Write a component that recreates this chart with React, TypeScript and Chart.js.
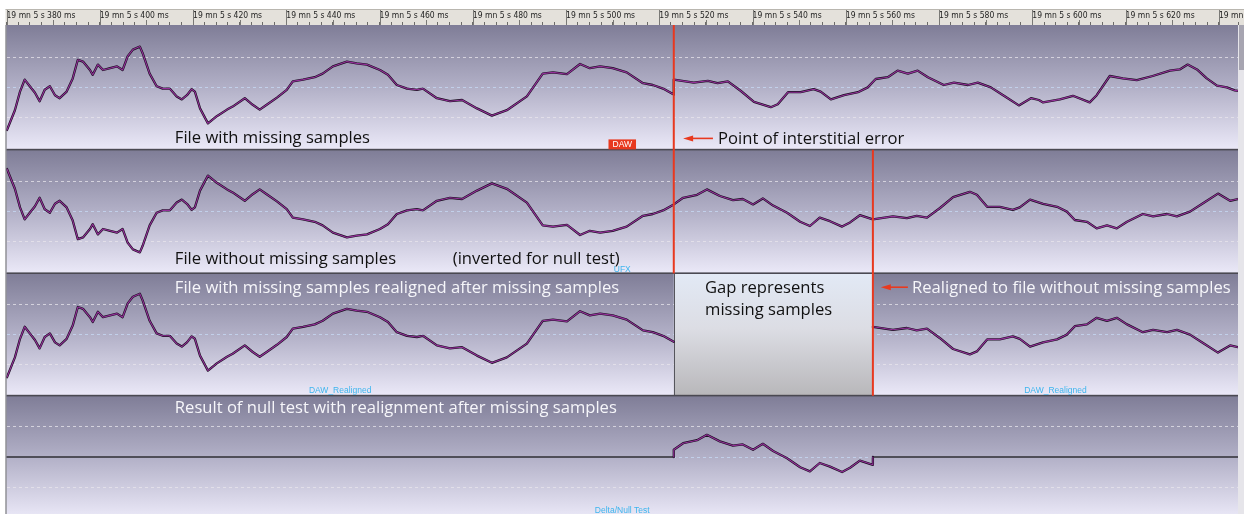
import { useEffect, useRef } from "react";
import { Chart, registerables } from "chart.js";

Chart.register(...registerables);

// Readings of the file without missing samples: time (ms after 19 mn 5 s) and normalised amplitude
const sampleMs = [
  380.1, 381.8, 382.9, 383.9, 385.0, 386.1, 387.1, 388.2, 389.3, 390.4,
  391.4, 392.9, 394.2, 395.3, 396.4, 397.9, 398.5, 399.6, 400.7, 402.2,
  403.7, 404.9, 406.0, 407.1, 408.6, 409.2, 410.7, 412.2, 413.5, 415.0,
  416.5, 417.6, 418.7, 419.7, 420.4, 421.5, 423.2, 425.1, 427.3, 428.5,
  431.1, 432.8, 434.3, 435.8, 438.0, 440.1, 441.4, 443.6, 446.1, 447.8,
  450.0, 453.0, 455.1, 457.3, 460.1, 461.8, 463.7, 465.9, 468.0, 469.3,
  472.3, 475.1, 477.7, 480.9, 484.1, 487.3, 491.6, 495.0, 497.2, 500.2,
  503.0, 505.1, 507.3, 510.0, 513.0, 516.5, 518.6, 520.8, 523.1, 525.1,
  528.1, 530.2, 533.0, 535.8, 537.9, 540.1, 542.2, 544.4, 547.4, 550.2,
  552.3, 554.4, 556.6, 559.2, 560.9, 563.0, 565.8, 570.1, 573.1, 575.2,
  577.4, 580.2, 583.0, 586.6, 588.1, 590.3, 593.0, 595.8, 597.3, 599.5,
  602.3, 605.3, 607.4, 609.1, 611.7, 613.8, 616.0, 618.1, 620.3, 623.7,
  625.9, 628.9, 631.0, 633.8, 636.6, 639.8, 642.4, 644.1, 645.0, 648.6,
  651.4, 655.0, 656.5, 659.3, 662.1, 665.1, 668.5, 672.2, 674.3, 676.0,
  678.0, 680.1, 682.3, 684.4, 686.1, 686.9,
];

const amplitude = [
  -0.71, -0.38, -0.07, 0.13, 0.02, -0.09, -0.23, -0.04, 0.02, -0.13,
  -0.18, -0.07, 0.15, 0.46, 0.43, 0.29, 0.21, 0.38, 0.29, 0.32,
  0.35, 0.29, 0.52, 0.63, 0.68, 0.57, 0.23, 0.02, -0.02, -0.02,
  -0.15, -0.2, -0.13, -0.03, -0.07, -0.35, -0.6, -0.48, -0.37, -0.32,
  -0.18, -0.29, -0.37, -0.29, -0.17, -0.04, 0.1, 0.13, 0.17, 0.23,
  0.35, 0.43, 0.4, 0.38, 0.29, 0.21, 0.04, -0.02, -0.04, -0.02,
  -0.18, -0.23, -0.21, -0.35, -0.47, -0.38, -0.15, 0.23, 0.25, 0.22,
  0.39, 0.32, 0.35, 0.32, 0.25, 0.07, 0.04, -0.02, -0.12, -0.23,
  -0.28, -0.37, -0.26, -0.19, -0.21, -0.12, -0.22, -0.1, 0.02, 0.17,
  0.24, 0.1, 0.16, 0.25, 0.18, 0.06, 0.13, 0.08, 0.11, 0.07,
  0.1, -0.06, -0.24, -0.33, -0.28, -0.08, -0.08, -0.03, -0.07, -0.2,
  -0.13, -0.08, 0, 0.14, 0.17, 0.28, 0.23, 0.28, 0.17, 0.04,
  0.08, 0.04, 0.08, 0, -0.14, -0.3, -0.18, -0.21, -0.25, -0.2,
  -0.14, -0.25, -0.13, 0.19, 0.15, 0.12, 0.19, 0.28, 0.3, 0.38,
  0.3, 0.15, 0.03, 0, -0.05, -0.06,
];

// Samples lost by the DAW recording
const GAP_START_MS = 523.1;
const GAP_END_MS = 565.8;

// Visible time window and ruler
const VIEW_START_MS = 380;
const VIEW_END_MS = 644.1;
const RULER_STEP_MS = 2.5;
const rulerLabelMs = [380, 400, 420, 440, 460, 480, 500, 520, 540, 560, 580, 600, 620, 640];

const trackNames = ["DAW", "UFX", "DAW_Realigned", "Delta/Null Test"];

// Track lanes, top to bottom (amplitude range shown in each lane)
const lanes = [
  { id: "t1", min: -1.04, max: 1.04, full: 1.04 },
  { id: "t2", min: -1.03, max: 1.03, full: 1.03 },
  { id: "t3", min: -1.02, max: 1.02, full: 1.02 },
  { id: "t4", min: -0.95, max: 1.02, full: 1.02 },
];

const OUTLINE = "#1a1020";
const CORE = "#94309a";
const MARKER_RED = "#e8391f";
const TAG_BLUE = "#3db5ee";
const INK = "#111111";
const PAPER = "#f6f6fa";
const NOTE_FONT = "16.6px 'Open Sans', 'Noto Sans', sans-serif";
const TAG_FONT = "8.5px 'Liberation Sans', Arial, sans-serif";

type Pt = { x: number; y: number | null };

const source: Pt[] = sampleMs.map((t, i) => ({ x: t, y: amplitude[i] }));
const gapLength = GAP_END_MS - GAP_START_MS;
const eps = 1e-6;
const beforeGap = source.filter((p) => p.x <= GAP_START_MS + eps);
const afterGap = source.filter((p) => p.x >= GAP_END_MS - eps);
const insideGap = source.filter((p) => p.x >= GAP_START_MS - eps && p.x <= GAP_END_MS + eps);
const gapMid = (GAP_START_MS + GAP_END_MS) / 2;

// DAW take: everything after the dropout plays early by the gap length
const dawSeries: Pt[] = [...beforeGap, ...afterGap.map((p) => ({ x: p.x - gapLength, y: p.y }))];
// UFX take: complete file, polarity inverted for the null test
const ufxSeries: Pt[] = source.map((p) => ({ x: p.x, y: -(p.y as number) }));
// DAW take realigned: nothing where the samples are missing
const realignedSeries: Pt[] = [...beforeGap, { x: gapMid, y: null }, ...afterGap];
// Null test: silence except inside the gap, where only the inverted UFX remains
const nullFlat: Pt[] = [
  { x: VIEW_START_MS, y: 0 },
  { x: GAP_START_MS, y: 0 },
  { x: gapMid, y: null },
  { x: GAP_END_MS, y: 0 },
  { x: VIEW_END_MS, y: 0 },
];
const nullResidue: Pt[] = [
  { x: GAP_START_MS, y: 0 },
  ...insideGap.map((p) => ({ x: p.x, y: -(p.y as number) })),
  { x: GAP_END_MS, y: 0 },
];

const notes = [
  { text: "File with missing samples", ms: 416.1, lane: "t1", level: -0.93, colour: INK },
  { text: "Point of interstitial error", ms: 532.6, lane: "t1", level: -0.94, colour: INK },
  { text: "File without missing samples", ms: 416.1, lane: "t2", level: -0.87, colour: INK },
  { text: "(inverted for null test)", ms: 475.7, lane: "t2", level: -0.87, colour: INK },
  { text: "File with missing samples realigned after missing samples", ms: 416.1, lane: "t3", level: 0.7, colour: PAPER },
  { text: "Gap represents", ms: 529.8, lane: "t3", level: 0.7, colour: INK },
  { text: "missing samples", ms: 529.8, lane: "t3", level: 0.33, colour: INK },
  { text: "Realigned to file without missing samples", ms: 574.2, lane: "t3", level: 0.7, colour: PAPER },
  { text: "Result of null test with realignment after missing samples", ms: 416.1, lane: "t4", level: 0.73, colour: PAPER },
];

const arrows = [
  { lane: "t1", fromMs: 531.5, toMs: 525.1, level: -0.85 },
  { lane: "t3", fromMs: 573.3, toMs: 567.5, level: 0.79 },
];

const tags = [
  { text: trackNames[0], lane: "t1", fromMs: VIEW_START_MS, toMs: VIEW_END_MS, level: -0.95, boxed: true },
  { text: trackNames[1], lane: "t2", fromMs: VIEW_START_MS, toMs: VIEW_END_MS, level: -0.96, boxed: false },
  { text: trackNames[2], lane: "t3", fromMs: VIEW_START_MS, toMs: GAP_START_MS, level: -0.92, boxed: false },
  { text: trackNames[2], lane: "t3", fromMs: GAP_END_MS, toMs: VIEW_END_MS, level: -0.92, boxed: false },
  { text: trackNames[3], lane: "t4", fromMs: VIEW_START_MS, toMs: VIEW_END_MS, level: -0.89, boxed: false },
];

const RULER_TOP = 9;

const editorDecor = {
  id: "editorDecor",
  beforeDraw(chart: any) {
    const { ctx, chartArea: a, width, height } = chart;
    ctx.save();
    ctx.fillStyle = "#ffffff";
    ctx.fillRect(0, 0, width, height);

    // time ruler strip
    ctx.fillStyle = "#e4e1db";
    ctx.fillRect(a.left - 1, RULER_TOP, width - a.left + 1, a.top - RULER_TOP);
    ctx.fillStyle = "#b9b6af";
    ctx.fillRect(a.left - 1, RULER_TOP, width - a.left + 1, 1);

    // lane backgrounds
    for (const lane of lanes) {
      const s = chart.scales[lane.id];
      const top = s.getPixelForValue(lane.full);
      const bottom = s.getPixelForValue(-lane.full);
      const g = ctx.createLinearGradient(0, top, 0, bottom);
      g.addColorStop(0, "#7f7d97");
      g.addColorStop(0.5, "#b2b0c7");
      g.addColorStop(1, "#ebe9f8");
      ctx.fillStyle = g;
      ctx.fillRect(a.left, s.top, a.right - a.left, s.bottom - s.top);
    }

    // strip right of the lanes
    ctx.fillStyle = "#e6e5ea";
    ctx.fillRect(a.right, a.top, width - a.right, height - a.top);
    ctx.fillStyle = "#a7a5b1";
    ctx.fillRect(a.right + 1, a.top, width - a.right - 1, 45);
    ctx.restore();
  },
  beforeDatasetsDraw(chart: any) {
    const { ctx, chartArea: a, height } = chart;
    const x = chart.scales.x;
    ctx.save();

    // empty region of the realigned lane
    const s3 = chart.scales.t3;
    const gx0 = x.getPixelForValue(GAP_START_MS);
    const gx1 = x.getPixelForValue(GAP_END_MS);
    const g = ctx.createLinearGradient(0, s3.top, 0, s3.bottom);
    g.addColorStop(0, "#e2e9f5");
    g.addColorStop(0.45, "#dcdde4");
    g.addColorStop(1, "#b8b7ba");
    ctx.fillStyle = g;
    ctx.fillRect(gx0, s3.top, gx1 - gx0, s3.bottom - s3.top);
    ctx.strokeStyle = "#55555c";
    ctx.lineWidth = 1;
    ctx.beginPath();
    ctx.moveTo(Math.round(gx0) + 0.5, s3.top);
    ctx.lineTo(Math.round(gx0) + 0.5, s3.bottom);
    ctx.stroke();

    // lane separators
    ctx.fillStyle = "#4a4952";
    for (const lane of lanes.slice(0, 3)) {
      const s = chart.scales[lane.id];
      ctx.fillRect(a.left, s.bottom - 1, a.right - a.left, 1.6);
    }
    // left edge
    ctx.fillStyle = "#5b5a63";
    ctx.fillRect(a.left - 1, a.top, 1, height - a.top);
    ctx.restore();
  },
  afterDatasetsDraw(chart: any) {
    const { ctx } = chart;
    const x = chart.scales.x;
    ctx.save();

    // dropout markers
    ctx.fillStyle = MARKER_RED;
    const m0 = x.getPixelForValue(GAP_START_MS);
    ctx.fillRect(m0 - 1, chart.scales.t1.top, 2, chart.scales.t2.bottom - chart.scales.t1.top);
    const m1 = x.getPixelForValue(GAP_END_MS);
    ctx.fillRect(m1 - 1, chart.scales.t2.top, 2, chart.scales.t3.bottom - chart.scales.t2.top);

    // arrows
    ctx.strokeStyle = MARKER_RED;
    ctx.lineWidth = 1.6;
    for (const ar of arrows) {
      const s = chart.scales[ar.lane];
      const y = s.getPixelForValue(ar.level);
      const xf = x.getPixelForValue(ar.fromMs);
      const xt = x.getPixelForValue(ar.toMs);
      ctx.beginPath();
      ctx.moveTo(xf, y);
      ctx.lineTo(xt + 8, y);
      ctx.stroke();
      ctx.beginPath();
      ctx.moveTo(xt, y);
      ctx.lineTo(xt + 10, y - 3);
      ctx.lineTo(xt + 10, y + 3);
      ctx.closePath();
      ctx.fill();
    }

    // captions
    ctx.font = NOTE_FONT;
    ctx.textAlign = "left";
    ctx.textBaseline = "alphabetic";
    for (const n of notes) {
      const s = chart.scales[n.lane];
      ctx.fillStyle = n.colour;
      ctx.fillText(n.text, x.getPixelForValue(n.ms), s.getPixelForValue(n.level));
    }

    // clip name tags
    ctx.font = TAG_FONT;
    ctx.textAlign = "center";
    ctx.textBaseline = "middle";
    for (const t of tags) {
      const s = chart.scales[t.lane];
      const cx = (x.getPixelForValue(t.fromMs) + x.getPixelForValue(t.toMs)) / 2;
      const cy = s.getPixelForValue(t.level);
      if (t.boxed) {
        const w = ctx.measureText(t.text).width + 8;
        ctx.fillStyle = MARKER_RED;
        ctx.fillRect(cx - w / 2, cy - 5, w, 10);
        ctx.fillStyle = "#ffffff";
      } else {
        ctx.fillStyle = TAG_BLUE;
      }
      ctx.fillText(t.text, cx, cy + 0.5);
    }
    ctx.restore();
  },
  afterDraw(chart: any) {
    const { ctx, chartArea: a } = chart;
    const x = chart.scales.x;
    ctx.save();
    ctx.fillStyle = "#7a7976";
    for (const ms of rulerLabelMs) {
      const px = Math.round(x.getPixelForValue(ms));
      ctx.fillRect(px, RULER_TOP + 1, 1, a.top - RULER_TOP - 1);
      const half = Math.round(x.getPixelForValue(ms + 10));
      ctx.fillRect(half, a.top - 5, 1, 5);
    }
    ctx.restore();
  },
};

function laneScale(lane: { id: string; min: number; max: number }, order: number) {
  return {
    type: "linear",
    position: "left",
    stack: "lanes",
    stackWeight: lane.max - lane.min,
    weight: order,
    min: lane.min,
    max: lane.max,
    ticks: { display: false, stepSize: 0.5 },
    grid: {
      drawTicks: false,
      lineWidth: 1,
      color: (c: any) => {
        const v = c.tick ? c.tick.value : 99;
        if (Math.abs(v) < eps) return "rgba(196,214,240,0.85)";
        if (Math.abs(Math.abs(v) - 0.5) < eps) return "rgba(232,230,236,0.75)";
        return "rgba(0,0,0,0)";
      },
    },
    border: { display: false, dash: [3, 3] },
  };
}

function trace(data: Pt[], axis: string, colour: string, width: number, order: number) {
  return {
    data,
    xAxisID: "x",
    yAxisID: axis,
    borderColor: colour,
    borderWidth: width,
    pointRadius: 0,
    tension: 0,
    spanGaps: false,
    fill: false,
    order,
    borderJoinStyle: "round",
    borderCapStyle: "round",
  };
}

export default function App() {
  const canvasRef = useRef<HTMLCanvasElement | null>(null);

  useEffect(() => {
    document.body.style.margin = "0";
    const canvas = canvasRef.current;
    if (!canvas) return;
    const chart = new Chart(canvas, {
      type: "line",
      data: {
        datasets: [
          trace(dawSeries, "t1", OUTLINE, 2.3, 2),
          trace(dawSeries, "t1", CORE, 1.1, 1),
          trace(ufxSeries, "t2", OUTLINE, 2.3, 2),
          trace(ufxSeries, "t2", CORE, 1.1, 1),
          trace(realignedSeries, "t3", OUTLINE, 2.3, 2),
          trace(realignedSeries, "t3", CORE, 1.1, 1),
          trace(nullFlat, "t4", "#4f4e58", 2, 3),
          trace(nullResidue, "t4", OUTLINE, 2.3, 2),
          trace(nullResidue, "t4", CORE, 1.1, 1),
        ] as any,
      },
      options: {
        animation: false,
        responsive: false,
        devicePixelRatio: 1,
        events: [],
        layout: { padding: { top: RULER_TOP, left: 6.5, right: 6, bottom: 0 } },
        plugins: { legend: { display: false }, tooltip: { enabled: false } },
        scales: {
          x: {
            type: "linear",
            position: "top",
            min: VIEW_START_MS,
            max: VIEW_END_MS,
            afterFit: (scale: any) => {
              scale.height = 16;
            },
            ticks: {
              stepSize: RULER_STEP_MS,
              autoSkip: false,
              maxRotation: 0,
              minRotation: 0,
              align: "start",
              padding: 1,
              color: "#1e1e1e",
              font: { family: "'Liberation Sans Narrow', 'DejaVu Sans Condensed', 'Liberation Sans', sans-serif", size: 8.5 },
              callback: (value: any) => {
                const v = Number(value);
                return rulerLabelMs.some((m) => Math.abs(m - v) < eps) ? `19 mn 5 s ${Math.round(v)} ms` : "";
              },
            },
            grid: { drawOnChartArea: false, drawTicks: true, tickLength: 3, color: "#6c6b68", lineWidth: 1 },
            border: { display: false },
          },
          t1: laneScale(lanes[0], 4),
          t2: laneScale(lanes[1], 3),
          t3: laneScale(lanes[2], 2),
          t4: laneScale(lanes[3], 1),
        } as any,
      },
      plugins: [editorDecor],
    });
    return () => chart.destroy();
  }, []);

  return <canvas ref={canvasRef} width={1244} height={514} style={{ display: "block" }} />;
}
